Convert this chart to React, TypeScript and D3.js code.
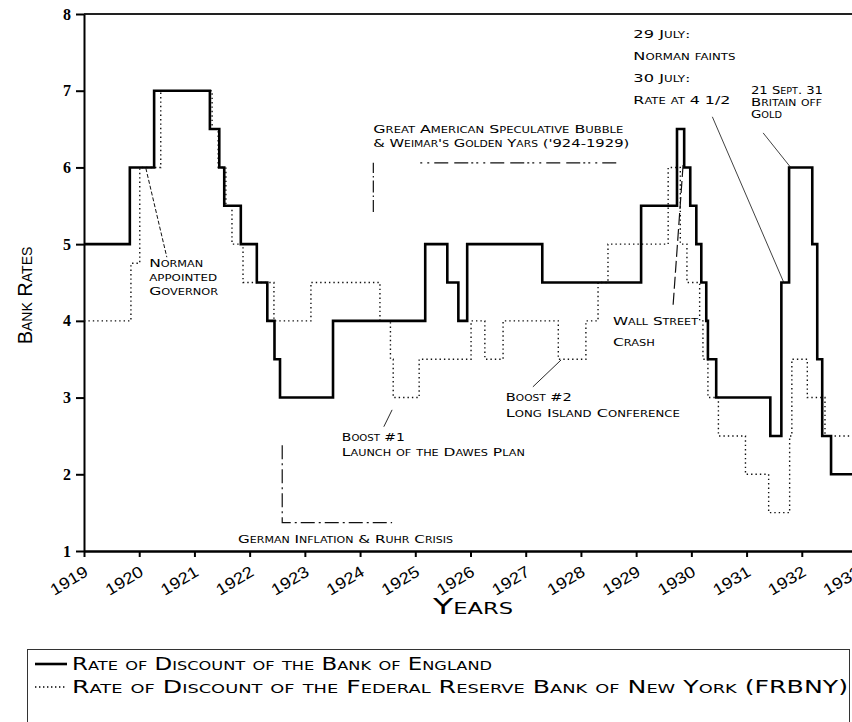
import React, { useEffect, useRef } from 'react';
import * as d3 from 'd3';

// tick labels
const yearTicks = [1919, 1920, 1921, 1922, 1923, 1924, 1925, 1926, 1927, 1928, 1929, 1930, 1931, 1932, 1933];
const rateTicks = [1, 2, 3, 4, 5, 6, 7, 8];

// Bank of England discount rate: date of change (fractional year) and new rate
const boeDates = [1919.0, 1919.83, 1920.27, 1921.28, 1921.45, 1921.54, 1921.84, 1922.13, 1922.32, 1922.45, 1922.55, 1923.51,
  1925.18, 1925.58, 1925.78, 1925.94, 1927.3, 1929.09, 1929.74, 1929.87, 1929.98, 1930.09, 1930.18, 1930.27, 1930.3, 1930.45,
  1931.43, 1931.63, 1931.77, 1932.19, 1932.28, 1932.37, 1932.53, 1933.2];
const boeRates = [5, 6, 7, 6.5, 6, 5.5, 5, 4.5, 4, 3.5, 3, 4,
  5, 4.5, 4, 5, 4.5, 5.5, 6.5, 6, 5.5, 5, 4.5, 4, 3.5, 3,
  2.5, 4.5, 6, 5, 3.5, 2.5, 2, 2];

// Federal Reserve Bank of New York discount rate
const frbnyDates = [1919.0, 1919.85, 1920.01, 1920.39, 1921.32, 1921.43, 1921.57, 1921.68, 1921.88, 1922.44, 1923.11,
  1924.36, 1924.55, 1924.6, 1925.07, 1926.01, 1926.26, 1926.59, 1927.59, 1928.09, 1928.31, 1928.49, 1929.58, 1929.8, 1929.92,
  1930.15, 1930.21, 1930.3, 1930.49, 1930.98, 1931.4, 1931.78, 1931.82, 1932.1, 1932.42, 1933.2];
const frbnyRates = [4, 4.75, 6, 7, 6.5, 6, 5.5, 5, 4.5, 4, 4.5,
  4, 3.5, 3, 3.5, 4, 3.5, 4, 3.5, 4, 4.5, 5, 6, 5, 4.5,
  4, 3.5, 3, 2.5, 2, 1.5, 2.5, 3.5, 3, 2.5, 2.5];

// annotations: text lines anchored at (year, rate), with their width on the page
const notes = [
  { lines: ['Norman', 'appointed', 'Governor'], year: 1920.18, rate: 4.75, gap: 14, widths: [54, 68, 69] },
  { lines: ['Great American Speculative Bubble', "& Weimar's Golden Yars ('924-1929)"], year: 1924.24, rate: 6.5, gap: 14, widths: [250, 256] },
  { lines: ['German Inflation & Ruhr Crisis'], year: 1921.79, rate: 1.16, gap: 14, widths: [215] },
  { lines: ['Boost #1', 'Launch of the Dawes Plan'], year: 1923.67, rate: 2.49, gap: 15, widths: [63, 183] },
  { lines: ['Boost #2', 'Long Island Conference'], year: 1926.64, rate: 3.01, gap: 16, widths: [66, 174] },
  { lines: ['Wall Street', 'Crash'], year: 1928.58, rate: 3.99, gap: 21, widths: [85, 42] },
  { lines: ['29 July:', 'Norman faints', '30 July:', 'Rate at 4 1/2'], year: 1928.95, rate: 7.74, gap: 22, widths: [57, 102, 57, 97] },
  { lines: ['21 Sept. 31', 'Britain off', 'Gold'], year: 1931.08, rate: 7.01, gap: 12, widths: [72, 71, 31] },
];

// leader lines in data coordinates
const leaders = [
  { pts: [[1920.12, 5.99], [1920.5, 4.83]], dash: '4,2', width: 1 },
  { pts: [[1924.24, 5.42], [1924.24, 6.06]], dash: '12,3,1.5,3', width: 1.2 },
  { pts: [[1925.09, 6.06], [1928.71, 6.06]], dash: '2,5,2,5,14,6,14,3,2,3', width: 1.2 },
  { pts: [[1922.59, 2.38], [1922.59, 1.37], [1924.58, 1.37]], dash: '14,4,2,4', width: 1.2 },
  { pts: [[1924.58, 2.84], [1924.43, 2.62]], dash: '', width: 0.9 },
  { pts: [[1927.13, 3.14], [1927.64, 3.49]], dash: '', width: 0.9 },
  { pts: [[1929.67, 4.21], [1929.85, 6.03]], dash: '12,4', width: 1.2 },
  { pts: [[1930.38, 6.66], [1931.68, 4.49]], dash: '', width: 0.8 },
  { pts: [[1931.3, 6.45], [1931.81, 5.99]], dash: '', width: 0.8 },
];

const legendItems = [
  { label: 'Rate of Discount of the Bank of England', dash: '', width: 2.6, textWidth: 420 },
  { label: 'Rate of Discount of the Federal Reserve Bank of New York (FRBNY)', dash: '1.4,2.6', width: 1.3, textWidth: 776 },
];

const capsFont = '"DejaVu Sans", sans-serif';

const App = () => {
  const ref = useRef<SVGSVGElement>(null);

  useEffect(() => {
    document.body.style.margin = '0';
    const width = 852;
    const svg = d3.select(ref.current);
    svg.selectAll('*').remove();

    const x = d3.scaleLinear().domain([1919, 1933]).range([84, 857]);
    const y = d3.scaleLinear().domain([1, 8]).range([551, 14]);

    // frame: top border
    svg.append('line')
      .attr('x1', x(1919)).attr('x2', width)
      .attr('y1', y(8)).attr('y2', y(8))
      .attr('stroke', '#222').attr('stroke-width', 2);

    // y axis
    const yAxis = svg.append('g')
      .attr('transform', `translate(${x(1919)},0)`)
      .call(d3.axisLeft(y).tickValues(rateTicks).tickSize(8).tickSizeOuter(0).tickFormat(d3.format('d')));
    yAxis.select('.domain').attr('stroke-width', 2);
    yAxis.selectAll('.tick line').attr('stroke-width', 2);
    yAxis.selectAll('.tick text')
      .attr('x', -13)
      .style('font-family', '"Liberation Serif", serif')
      .style('font-size', '16px')
      .style('font-weight', 'bold');

    // x axis
    const xAxis = svg.append('g')
      .attr('transform', `translate(0,${y(1)})`)
      .call(d3.axisBottom(x).tickValues(yearTicks).tickSize(6).tickSizeOuter(0).tickFormat(d3.format('d')));
    xAxis.select('.domain').attr('stroke-width', 2.5);
    xAxis.selectAll('.tick line').attr('stroke-width', 2);
    xAxis.selectAll('.tick text')
      .attr('x', 0).attr('y', 0).attr('dy', '0.35em')
      .attr('transform', 'translate(2,19) rotate(-31) scale(1.15,1)')
      .attr('text-anchor', 'end')
      .style('font-family', '"Liberation Sans", sans-serif')
      .style('font-size', '16px');

    // axis titles
    svg.append('text')
      .attr('transform', `translate(32,${(y(1) + y(8)) / 2 + 13}) rotate(-90)`)
      .attr('text-anchor', 'middle')
      .style('font-family', '"Liberation Sans", sans-serif')
      .style('font-size', '20px')
      .style('font-variant', 'small-caps')
      .text('Bank Rates');

    svg.append('text')
      .attr('x', 433).attr('y', 614)
      .attr('textLength', 80).attr('lengthAdjust', 'spacingAndGlyphs')
      .style('font-family', capsFont)
      .style('font-size', '22px')
      .style('font-variant', 'small-caps')
      .text('Years');

    // rate lines
    const step = d3.line<[number, number]>()
      .x(d => x(d[0]))
      .y(d => y(d[1]))
      .curve(d3.curveStepAfter);

    const boe = boeDates.map((d, i) => [d, boeRates[i]] as [number, number]);
    const frbny = frbnyDates.map((d, i) => [d, frbnyRates[i]] as [number, number]);

    svg.append('path')
      .attr('d', step(frbny))
      .attr('fill', 'none')
      .attr('stroke', '#111')
      .attr('stroke-width', 1.4)
      .attr('stroke-dasharray', '1.4,3');

    svg.append('path')
      .attr('d', step(boe))
      .attr('fill', 'none')
      .attr('stroke', '#000')
      .attr('stroke-width', 2.6);

    // leader lines
    const leader = d3.line<number[]>().x(d => x(d[0])).y(d => y(d[1]));
    leaders.forEach(l => {
      svg.append('path')
        .attr('d', leader(l.pts))
        .attr('fill', 'none')
        .attr('stroke', '#111')
        .attr('stroke-width', l.width)
        .attr('stroke-dasharray', l.dash || null);
    });

    // annotation texts
    notes.forEach(n => {
      n.lines.forEach((line, i) => {
        svg.append('text')
          .attr('x', x(n.year))
          .attr('y', y(n.rate) + i * n.gap)
          .attr('dy', '0.35em')
          .attr('textLength', n.widths[i])
          .attr('lengthAdjust', 'spacingAndGlyphs')
          .style('font-family', capsFont)
          .style('font-size', '11px')
          .style('font-variant', 'small-caps')
          .text(line);
      });
    });

    // legend
    const legend = svg.append('g');
    legend.append('rect')
      .attr('x', 27.5).attr('y', 649.5)
      .attr('width', 822).attr('height', 100)
      .attr('fill', 'none')
      .attr('stroke', '#333')
      .attr('stroke-width', 1);
    legendItems.forEach((item, i) => {
      const ly = 664 + i * 23;
      legend.append('line')
        .attr('x1', 35).attr('x2', 67)
        .attr('y1', ly).attr('y2', ly)
        .attr('stroke', '#000')
        .attr('stroke-width', item.width)
        .attr('stroke-dasharray', item.dash || null);
      legend.append('text')
        .attr('x', 72).attr('y', ly)
        .attr('dy', '0.35em')
        .attr('textLength', item.textWidth)
        .attr('lengthAdjust', 'spacingAndGlyphs')
        .style('font-family', capsFont)
        .style('font-size', '17px')
        .style('font-variant', 'small-caps')
        .text(item.label);
    });
  }, []);

  return <svg ref={ref} width={852} height={722} style={{ display: 'block', background: '#fff' }} />;
};

export default App;
